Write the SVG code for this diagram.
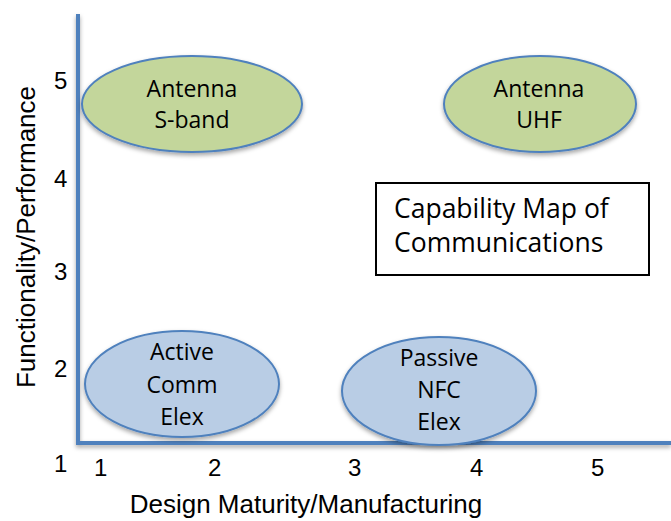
<svg xmlns="http://www.w3.org/2000/svg" width="671" height="521" viewBox="0 0 671 521">
<style>
.ax{font-family:"Liberation Sans",Arial,sans-serif;font-size:24px;fill:#000}
.lab{font-family:"Liberation Sans",Arial,sans-serif;font-size:26px;fill:#000}
.nt{font-family:"Open Sans","Liberation Sans",sans-serif;font-size:23px;fill:#000;text-anchor:middle}
.bt{font-family:"Open Sans","Liberation Sans",sans-serif;font-size:26.5px;fill:#000}
.green{fill:#C3D69B;stroke:#4F81BD;stroke-width:2}
.blue{fill:#B9CDE5;stroke:#4F81BD;stroke-width:2}
.axis{stroke:#4F81BD;stroke-width:4;fill:none}
</style>
<defs>
<filter id="sh" x="-20%" y="-20%" width="140%" height="150%">
<feDropShadow dx="0" dy="2.5" stdDeviation="2" flood-color="#000" flood-opacity="0.35"/>
</filter>
</defs>
<rect width="671" height="521" fill="#fff"/>
<g id="connectors">
<path class="axis" d="M78,14 V443 H671" filter="url(#sh)"/>
</g>
<g id="axis-labels">
<text class="ax" x="54" y="89">5</text>
<text class="ax" x="54" y="187">4</text>
<text class="ax" x="54" y="280">3</text>
<text class="ax" x="54" y="377">2</text>
<text class="ax" x="54" y="472">1</text>
<text class="ax" x="94" y="476">1</text>
<text class="ax" x="208" y="476">2</text>
<text class="ax" x="348" y="476">3</text>
<text class="ax" x="470" y="476">4</text>
<text class="ax" x="591" y="476">5</text>
<text class="lab" x="306" y="513" text-anchor="middle">Design Maturity/Manufacturing</text>
<text class="lab" transform="translate(35,237) rotate(-90)" text-anchor="middle">Functionality/Performance</text>
</g>
<g id="antenna-sband">
<ellipse class="green" cx="192" cy="104" rx="110" ry="48" filter="url(#sh)"/>
<text class="nt" x="192" y="97">Antenna</text>
<text class="nt" x="192" y="128">S-band</text>
</g>
<g id="antenna-uhf">
<ellipse class="green" cx="540" cy="104" rx="96" ry="48" filter="url(#sh)"/>
<text class="nt" x="539" y="97">Antenna</text>
<text class="nt" x="539" y="128">UHF</text>
</g>
<g id="title-box">
<rect x="376" y="183" width="273" height="92" fill="#fff" stroke="#000" stroke-width="2"/>
<text class="bt" x="394" y="218">Capability Map of</text>
<text class="bt" x="394" y="252">Communications</text>
</g>
<g id="active-comm">
<ellipse class="blue" cx="182" cy="384" rx="97" ry="53" filter="url(#sh)"/>
<text class="nt" x="182" y="360">Active</text>
<text class="nt" x="182" y="393">Comm</text>
<text class="nt" x="182" y="425">Elex</text>
</g>
<g id="passive-nfc">
<ellipse class="blue" cx="439" cy="391" rx="97" ry="54" filter="url(#sh)"/>
<text class="nt" x="439" y="366">Passive</text>
<text class="nt" x="439" y="398">NFC</text>
<text class="nt" x="439" y="430">Elex</text>
</g>
</svg>
